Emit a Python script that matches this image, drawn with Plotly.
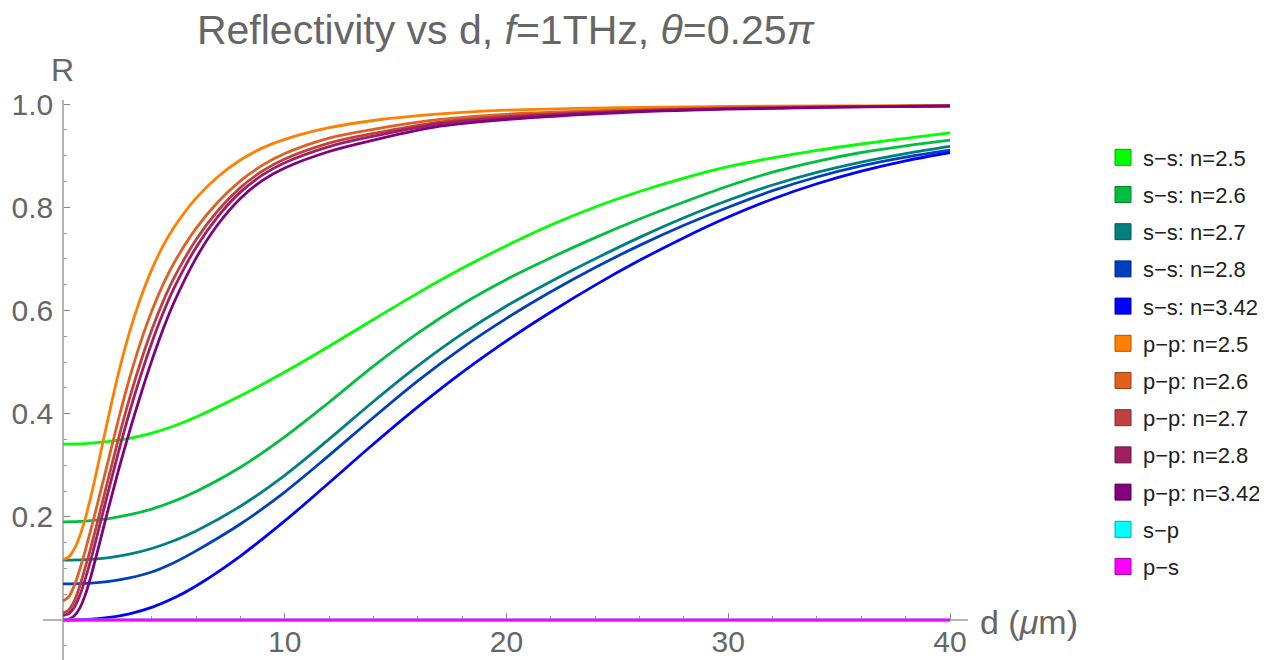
import plotly.graph_objects as go

# ---- data ----
# s-s curves
d_s = [0, 1, 2, 3, 4, 5, 6, 8, 10, 12, 14, 16, 18, 20, 22, 24, 26, 28, 30, 32, 34, 36, 38, 40]
ss_25 = [0.341, 0.342, 0.3455, 0.352, 0.362, 0.376, 0.3935, 0.4345, 0.4805, 0.5305, 0.5825, 0.6335,
         0.6815, 0.7255, 0.7655, 0.8005, 0.8305, 0.8565, 0.8785, 0.8955, 0.910, 0.9225, 0.9335, 0.944]
ss_26 = [0.190, 0.1915, 0.196, 0.204, 0.215, 0.230, 0.249, 0.296, 0.355, 0.422, 0.492, 0.556,
         0.612, 0.660, 0.702, 0.741, 0.777, 0.810, 0.841, 0.868, 0.889, 0.906, 0.919, 0.930]
ss_27 = [0.116, 0.117, 0.1205, 0.1275, 0.1385, 0.1535, 0.1725, 0.2205, 0.2805, 0.3505, 0.4235, 0.4925,
         0.5545, 0.6085, 0.656, 0.700, 0.7415, 0.7795, 0.8135, 0.843, 0.8675, 0.8875, 0.904, 0.918]
ss_28 = [0.070, 0.071, 0.0745, 0.0815, 0.093, 0.111, 0.134, 0.186, 0.248, 0.319, 0.3925, 0.4635,
         0.5275, 0.5845, 0.636, 0.683, 0.726, 0.765, 0.800, 0.832, 0.8585, 0.880, 0.897, 0.9105]
ss_342 = [0.0, 0.001, 0.0045, 0.012, 0.0245, 0.0425, 0.066, 0.124, 0.192, 0.266, 0.341, 0.413,
          0.480, 0.541, 0.597, 0.649, 0.697, 0.741, 0.781, 0.816, 0.8455, 0.870, 0.890, 0.906]

# p-p curves
d_p = [0, 0.25, 0.5, 0.75, 1, 1.25, 1.5, 2, 2.5, 3, 3.5, 4, 4.5, 5, 6, 7, 8, 9, 10, 12, 14, 17, 20, 25, 30, 35, 40]
pp_25 = [0.117, 0.122, 0.137, 0.162, 0.196, 0.238, 0.285, 0.384, 0.478, 0.558, 0.624, 0.679, 0.724, 0.7605,
         0.8175, 0.8595, 0.8915, 0.915, 0.9315, 0.954, 0.968, 0.9808, 0.988, 0.993, 0.9955, 0.9965, 0.997]
pp_26 = [0.037, 0.0445, 0.0658, 0.0971, 0.134, 0.174, 0.2159, 0.3022, 0.3885, 0.4685, 0.5385, 0.5985, 0.649, 0.6915,
         0.759, 0.8105, 0.851, 0.8815, 0.904, 0.934, 0.951, 0.970, 0.980, 0.988, 0.993, 0.995, 0.997]
pp_27 = [0.014, 0.019, 0.036, 0.065, 0.1014, 0.1395, 0.1809, 0.2665, 0.351, 0.4294, 0.4996, 0.5619, 0.616, 0.6624,
         0.7371, 0.7941, 0.838, 0.8703, 0.8934, 0.9241, 0.943, 0.965, 0.9762, 0.986, 0.992, 0.9946, 0.9966]
pp_28 = [0.009, 0.012, 0.024, 0.047, 0.0791, 0.1159, 0.157, 0.2421, 0.3253, 0.4026, 0.473, 0.5368, 0.5934, 0.6425,
         0.7221, 0.7829, 0.8292, 0.8626, 0.8861, 0.9174, 0.9376, 0.9617, 0.9736, 0.985, 0.991, 0.9944, 0.9964]
pp_342 = [0.0, 0.0013, 0.0076, 0.0226, 0.0482, 0.0832, 0.1238, 0.2083, 0.2898, 0.3656, 0.4361, 0.5021, 0.5621, 0.6149,
          0.7014, 0.7674, 0.8169, 0.852, 0.876, 0.908, 0.930, 0.957, 0.970, 0.983, 0.990, 0.994, 0.996]

# cross-polarised terms (zero everywhere)
d_x = [0, 40]
sp = [0.0, 0.0]
ps = [0.0, 0.0]

names = ["s\u2212s: n=2.5", "s\u2212s: n=2.6", "s\u2212s: n=2.7", "s\u2212s: n=2.8", "s\u2212s: n=3.42",
         "p\u2212p: n=2.5", "p\u2212p: n=2.6", "p\u2212p: n=2.7", "p\u2212p: n=2.8", "p\u2212p: n=3.42",
         "s\u2212p", "p\u2212s"]
xs = [d_s] * 5 + [d_p] * 5 + [d_x, d_x]
series = [ss_25, ss_26, ss_27, ss_28, ss_342, pp_25, pp_26, pp_27, pp_28, pp_342, sp, ps]
colors = ["rgb(0,255,0)", "rgb(0,191,64)", "rgb(0,128,128)", "rgb(0,64,191)", "rgb(0,0,255)",
          "rgb(255,128,0)", "rgb(223,96,32)", "rgb(191,64,64)", "rgb(159,32,96)", "rgb(128,0,128)",
          "rgb(0,255,255)", "rgb(255,0,255)"]
borders = ["rgb(0,170,0)", "rgb(0,128,43)", "rgb(0,85,85)", "rgb(0,43,128)", "rgb(0,0,170)",
           "rgb(170,85,0)", "rgb(150,64,21)", "rgb(128,43,43)", "rgb(106,21,64)", "rgb(85,0,85)",
           "rgb(0,170,170)", "rgb(170,0,170)"]

W, H = 1267, 660
OFF = 8  # page body margin
FONT = "Liberation Sans, Arial, sans-serif"
GRAY = "#666666"


def px(xp):
    return (xp - OFF) / W


def py(yp):
    return 1 - (yp - OFF) / H


fig = go.Figure()
for nm, xv, ys, c in zip(names, xs, series, colors):
    fig.add_trace(go.Scatter(x=xv, y=ys, mode="lines", name=nm,
                             line=dict(color=c, width=2.8, shape="spline", smoothing=1.0),
                             showlegend=False, hoverinfo="x+y+name"))
for i, (nm, c, b) in enumerate(zip(names, colors, borders)):
    fig.add_trace(go.Scatter(x=[None], y=[None], mode="markers", name=nm,
                             marker=dict(symbol="square", size=16, color=c, line=dict(color=b, width=1)),
                             legendgroup="g%d" % i, showlegend=True))

# target page pixels: d=0 -> 63, d=40 -> 950 ; R=0 -> 620, R=1 -> 104
fig.update_layout(
    width=W, height=H,
    margin=dict(l=0, r=0, t=0, b=0, autoexpand=False),
    paper_bgcolor="white", plot_bgcolor="white",
    font=dict(family=FONT, color=GRAY),
    title=dict(text="Reflectivity vs d, <i>f</i>=1THz, <i>\u03b8</i>=0.25<i>\u03c0</i>",
               x=px(505.5), xanchor="center", y=py(30), yanchor="middle",
               font=dict(size=41, color=GRAY, family=FONT)),
    xaxis=dict(domain=[px(43), px(968)], range=[-0.902, 40.81],
               anchor="free", position=py(620),
               showline=True, linecolor="#b4b4b4", linewidth=1.5, layer="below traces",
               zeroline=False, showgrid=False,
               tickmode="array", tickvals=[10, 20, 30, 40], ticktext=["10", "20", "30", "40"],
               ticks="inside", ticklen=6, tickcolor="#888888", tickwidth=1,
               ticklabelstandoff=-5,
               tickfont=dict(size=30, color=GRAY, family=FONT),
               minor=dict(tickmode="linear", tick0=0, dtick=2, ticks="inside", ticklen=3.5,
                          tickcolor="#999999", showgrid=False)),
    yaxis=dict(domain=[py(660), py(100)], range=[-40 / 516, 1 + 4 / 516],
               anchor="free", position=px(63),
               showline=True, linecolor="#b4b4b4", linewidth=1.5, layer="below traces",
               zeroline=False, showgrid=False,
               tickmode="array", tickvals=[0.2, 0.4, 0.6, 0.8, 1.0],
               ticktext=["0.2", "0.4", "0.6", "0.8", "1.0"],
               ticks="inside", ticklen=6, tickcolor="#888888", tickwidth=1,
               ticklabelstandoff=3,
               tickfont=dict(size=30, color=GRAY, family=FONT),
               minor=dict(tickmode="linear", tick0=0, dtick=0.05, ticks="inside", ticklen=3.5,
                          tickcolor="#999999", showgrid=False)),
    legend=dict(x=px(1095 + OFF), xanchor="left", y=py(136.5), yanchor="top",
                font=dict(size=22, color="#222222", family=FONT),
                tracegroupgap=5.6, bgcolor="rgba(0,0,0,0)", itemwidth=30),
    annotations=[
        dict(text="R", xref="paper", yref="paper", x=px(62), y=py(70),
             xanchor="center", yanchor="middle", showarrow=False,
             font=dict(size=32, color=GRAY, family=FONT)),
        dict(text="d (<i>\u03bc</i>m)", xref="paper", yref="paper", x=px(978), y=py(622),
             xanchor="left", yanchor="middle", showarrow=False,
             font=dict(size=34, color=GRAY, family=FONT)),
    ],
)

fig.write_html("out.html")
